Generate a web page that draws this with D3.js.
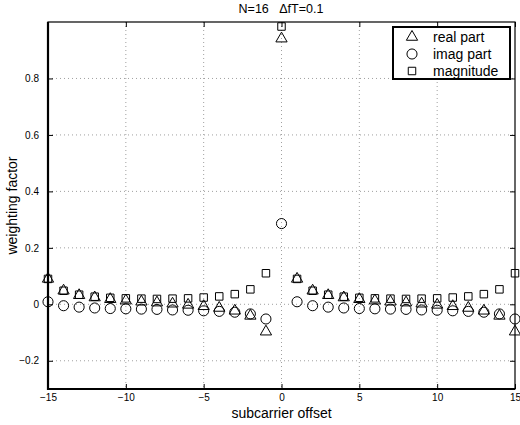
<!DOCTYPE html>
<html>
<head>
<meta charset="utf-8">
<script src="https://cdn.jsdelivr.net/npm/d3@7"></script>
<style>
  body { margin: 0; background: #fff; }
  text { font-family: "Liberation Sans", Arial, sans-serif; fill: #000; }
</style>
</head>
<body>
<svg id="chart" width="520" height="425"></svg>
<script>
// subcarrier offsets
let offsets = [-15, -14, -13, -12, -11, -10, -9, -8, -7, -6, -5, -4, -3, -2, -1,
  0, 1, 2, 3, 4, 5, 6, 7, 8, 9, 10, 11, 12, 13, 14, 15];

let realPart = [0.090, 0.048, 0.032, 0.024, 0.018, 0.013, 0.009, 0.006, 0.002, -0.002, -0.007, -0.013, -0.023, -0.041, -0.097,
  0.941, 0.090, 0.048, 0.032, 0.024, 0.018, 0.013, 0.009, 0.006, 0.002, -0.002, -0.007, -0.013, -0.023, -0.041, -0.097];
let imagPart = [0.009, -0.005, -0.010, -0.013, -0.015, -0.016, -0.017, -0.018, -0.020, -0.021, -0.023, -0.025, -0.028, -0.034, -0.052,
  0.286, 0.009, -0.005, -0.010, -0.013, -0.015, -0.016, -0.017, -0.018, -0.020, -0.021, -0.023, -0.025, -0.028, -0.034, -0.052];
let magnitude = [0.090, 0.048, 0.034, 0.027, 0.023, 0.021, 0.020, 0.019, 0.020, 0.021, 0.024, 0.028, 0.036, 0.053, 0.110,
  0.984, 0.090, 0.048, 0.034, 0.027, 0.023, 0.021, 0.020, 0.019, 0.020, 0.021, 0.024, 0.028, 0.036, 0.053, 0.110];

let xTicks = [-15, -10, -5, 0, 5, 10, 15];
let yTicks = [-0.2, 0, 0.2, 0.4, 0.6, 0.8];
let legendLabels = ["real part", "imag part", "magnitude"];

let svg = d3.select("#chart");
let plotLeft = 48, plotRight = 515, plotTop = 22, plotBottom = 389;

let x = d3.scaleLinear().domain([-15, 15]).range([plotLeft, plotRight]);
let y = d3.scaleLinear().domain([-0.3, 1]).range([plotBottom, plotTop]);

// grid
let grid = svg.append("g")
  .attr("stroke", "#888")
  .attr("stroke-width", 0.8)
  .attr("stroke-dasharray", "1,3");

grid.selectAll(".vgrid")
  .data(xTicks.filter((t) => t > -15 && t < 15))
  .enter()
  .append("line")
  .attr("x1", (d) => x(d))
  .attr("x2", (d) => x(d))
  .attr("y1", plotTop)
  .attr("y2", plotBottom);

grid.selectAll(".hgrid")
  .data(yTicks)
  .enter()
  .append("line")
  .attr("x1", plotLeft)
  .attr("x2", plotRight)
  .attr("y1", (d) => y(d))
  .attr("y2", (d) => y(d));

// axes, matlab style ticks pointing inwards
let fmtX = (d) => (d < 0 ? "\u2212" + Math.abs(d) : d);
let fmtY = (d) => (d === 0 ? "0" : d < 0 ? "\u2212" + Math.abs(d).toFixed(1) : d.toFixed(1));

let xAxis = svg.append("g")
  .attr("transform", `translate(0,${plotBottom})`)
  .call(d3.axisBottom(x).tickValues(xTicks).tickSizeInner(-5).tickSizeOuter(0).tickPadding(5).tickFormat(fmtX));
let xAxisTop = svg.append("g")
  .attr("transform", `translate(0,${plotTop})`)
  .call(d3.axisTop(x).tickValues(xTicks).tickSizeInner(-5).tickSizeOuter(0).tickFormat(""));
let yAxis = svg.append("g")
  .attr("transform", `translate(${plotLeft},0)`)
  .call(d3.axisLeft(y).tickValues(yTicks).tickSizeInner(-5).tickSizeOuter(0).tickPadding(9).tickFormat(fmtY));
let yAxisRight = svg.append("g")
  .attr("transform", `translate(${plotRight},0)`)
  .call(d3.axisRight(y).tickValues(yTicks).tickSizeInner(-5).tickSizeOuter(0).tickFormat(""));

[xAxis, xAxisTop, yAxis, yAxisRight].forEach((a) => {
  a.select(".domain").remove();
  a.selectAll("line").attr("stroke", "#000").attr("stroke-width", 1);
  a.selectAll("text").style("font-size", "10px").style("fill", "#000");
});

// frame: thin top/right, heavier left/bottom
svg.append("rect")
  .attr("x", plotLeft)
  .attr("y", plotTop)
  .attr("width", plotRight - plotLeft)
  .attr("height", plotBottom - plotTop)
  .attr("fill", "none")
  .attr("stroke", "#000")
  .attr("stroke-width", 1.2);
svg.append("path")
  .attr("d", `M${plotLeft},${plotTop}V${plotBottom}H${plotRight}`)
  .attr("fill", "none")
  .attr("stroke", "#000")
  .attr("stroke-width", 2.2);

// markers
let triangle = d3.symbol().type(d3.symbolTriangle).size(55);
let circle = d3.symbol().type(d3.symbolCircle).size(80);
let square = d3.symbol().type(d3.symbolSquare).size(56);

let marks = svg.append("g").attr("fill", "none").attr("stroke", "#000").attr("stroke-width", 1);

function drawSeries(values, sym) {
  marks.append("g")
    .selectAll("path")
    .data(values)
    .enter()
    .append("path")
    .attr("d", sym)
    .attr("transform", (d, i) => `translate(${x(offsets[i])},${y(d)})`);
}

drawSeries(magnitude, square);
drawSeries(imagPart, circle);
drawSeries(realPart, triangle);

// title
svg.append("text")
  .attr("x", 281)
  .attr("y", 13)
  .attr("text-anchor", "middle")
  .attr("xml:space", "preserve")
  .style("white-space", "pre")
  .style("font-size", "12.5px")
  .text("N=16   \u0394fT=0.1");

svg.append("text")
  .attr("x", (plotLeft + plotRight) / 2)
  .attr("y", 418)
  .attr("text-anchor", "middle")
  .style("font-size", "14px")
  .text("subcarrier offset");

svg.append("text")
  .attr("transform", `translate(17,${(plotTop + plotBottom) / 2}) rotate(-90)`)
  .attr("text-anchor", "middle")
  .style("font-size", "14px")
  .text("weighting factor");

// legend
let legend = svg.append("g");
legend.append("rect")
  .attr("x", 393)
  .attr("y", 27)
  .attr("width", 117)
  .attr("height", 52)
  .attr("fill", "#fff")
  .attr("stroke", "#000")
  .attr("stroke-width", 2);

let legendSyms = [triangle, circle, square];
legendLabels.forEach((label, i) => {
  let ly = 37 + i * 17;
  legend.append("path")
    .attr("d", legendSyms[i])
    .attr("transform", `translate(412,${ly})`)
    .attr("fill", "none")
    .attr("stroke", "#000");
  legend.append("text")
    .attr("x", 433)
    .attr("y", ly + 5)
    .style("font-size", "14px")
    .text(label);
});
</script>
</body>
</html>
